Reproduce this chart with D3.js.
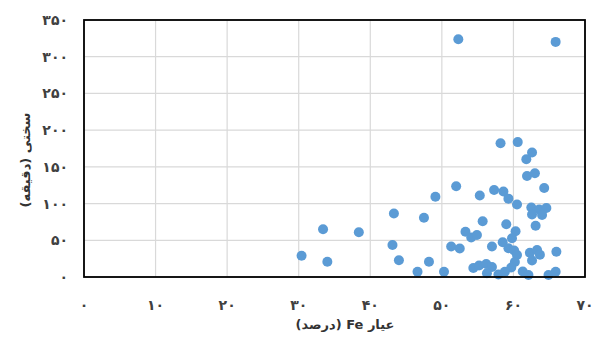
<!DOCTYPE html>
<html><head><meta charset="utf-8">
<script src="https://cdn.jsdelivr.net/npm/d3@7"></script>
<style>body{margin:0;background:#fff}svg{display:block}</style>
</head><body>
<svg id="c" width="601" height="338"></svg>
<script>
const feGrade = [30.4,34.0,33.4,38.4,43.3,47.5,43.1,44.0,48.2,46.6,50.3,49.1,52.0,51.3,52.5,
58.2,60.6,62.6,61.8,61.9,63.0,64.3,55.3,57.3,58.6,59.3,60.5,62.5,63.6,64.6,62.6,64.0,63.1,
55.7,59.0,60.3,59.8,53.3,54.1,54.9,57.0,58.5,59.3,60.1,60.5,62.3,63.3,63.7,66.0,62.6,60.2,
59.7,54.4,55.2,56.2,57.0,56.3,57.9,58.8,61.3,62.1,64.9,65.9,52.3,65.9];
const hardness = [29.0,20.8,65.0,61.0,86.5,80.8,43.6,22.9,20.8,7.2,7.2,109.4,123.6,41.6,38.8,
182.2,183.7,169.6,160.4,137.6,141.3,121.3,111.0,118.5,116.5,106.7,98.8,94.7,92.0,94.0,85.1,84.5,69.9,
76.0,71.9,62.3,52.7,61.7,53.8,57.2,41.6,47.3,39.1,36.1,30.0,33.1,36.8,30.4,34.5,22.5,20.4,
12.9,12.3,15.7,17.7,13.6,5.0,3.4,7.2,7.5,2.7,2.7,7.2,323.8,320.2];
const xTicks = [0,10,20,30,40,50,60,70];
const yTicks = [0,50,100,150,200,250,300,350];
const xTitle = "عیار Fe (درصد)";
const yTitle = "سختی (دقیقه)";

const fa = n => String(n).replace(/\d/g, d => "۰۱۲۳۴۵۶۷۸۹"[d]);
const svg = d3.select("#c");
const L=84,R=585,T=20,B=277;
const x = d3.scaleLinear().domain([0,70]).range([L,R]);
const y = d3.scaleLinear().domain([0,350]).range([B,T]);
const font = "'DejaVu Sans', sans-serif";

svg.append("g").selectAll("line").data(xTicks).join("line")
  .attr("x1",d=>x(d)).attr("x2",d=>x(d)).attr("y1",T).attr("y2",B)
  .attr("stroke","#d9d9d9").attr("stroke-width",1.2);
svg.append("g").selectAll("line").data(yTicks).join("line")
  .attr("x1",L).attr("x2",R).attr("y1",d=>y(d)).attr("y2",d=>y(d))
  .attr("stroke","#d9d9d9").attr("stroke-width",1.2);

svg.append("g").selectAll("circle").data(feGrade.map((v,i)=>[v,hardness[i]])).join("circle")
  .attr("cx",d=>x(d[0])).attr("cy",d=>y(d[1])).attr("r",5)
  .attr("fill","#5b9bd5");

svg.append("rect").attr("x",L).attr("y",T).attr("width",R-L).attr("height",B-T)
  .attr("fill","none").attr("stroke","#000").attr("stroke-width",1.8);

svg.append("g").selectAll("text").data(xTicks).join("text")
  .attr("x",d=>x(d)).attr("y",310).attr("text-anchor","middle")
  .attr("font-family",font).attr("font-weight","bold").attr("font-size",14).attr("fill","#404040")
  .text(d=>fa(d));
svg.append("g").selectAll("text").data(yTicks).join("text")
  .attr("x",68).attr("y",d=>y(d)+5).attr("text-anchor","end")
  .attr("font-family",font).attr("font-weight","bold").attr("font-size",14).attr("fill","#404040")
  .text(d=>fa(d));

svg.append("text").attr("x",345).attr("y",329).attr("text-anchor","middle").attr("direction","rtl")
  .attr("font-family",font).attr("font-weight","bold").attr("font-size",13).attr("fill","#333")
  .text(xTitle);
svg.append("text").attr("transform","translate(30,160) rotate(-90)").attr("text-anchor","middle").attr("direction","rtl")
  .attr("font-family",font).attr("font-weight","bold").attr("font-size",13).attr("fill","#333")
  .text(yTitle);
</script>
</body></html>
